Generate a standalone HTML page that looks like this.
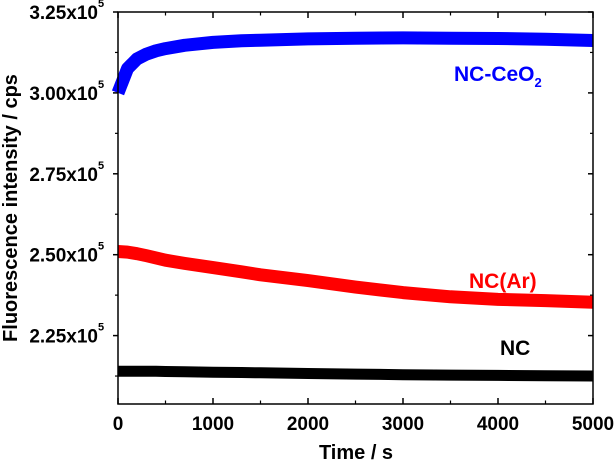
<!DOCTYPE html>
<html><head><meta charset="utf-8"><style>
html,body{margin:0;padding:0;background:#fff;}
svg text{font-family:"Liberation Sans",Arial,sans-serif;font-weight:bold;}
</style></head><body>
<svg id="chart" width="616" height="462" viewBox="0 0 616 462" xmlns="http://www.w3.org/2000/svg"></svg>
<script>
const timeVals = [0,100,200,300,400,500,700,1000,1300,1500,2000,2500,3000,3500,4000,4500,5000];
const ncCeO2 = [3.00,3.075,3.105,3.12,3.13,3.137,3.147,3.156,3.161,3.163,3.167,3.169,3.17,3.169,3.168,3.166,3.162];
const ncAr = [2.51,2.508,2.503,2.497,2.49,2.483,2.473,2.46,2.447,2.438,2.42,2.40,2.383,2.37,2.362,2.358,2.353];
const nc = [2.14,2.14,2.14,2.14,2.14,2.139,2.138,2.137,2.136,2.135,2.133,2.131,2.129,2.128,2.127,2.126,2.125];
const xTicks = [0,1000,2000,3000,4000,5000];
const yTicks = [2.25,2.50,2.75,3.00,3.25];
const yTickLabels = ["2.25x10","2.50x10","2.75x10","3.00x10","3.25x10"];

const L=118,R=593,T=12,B=404;
const xMin=0,xMax=5000,yMin=2.0386,yMax=3.25;
const sx=v=>L+(v-xMin)/(xMax-xMin)*(R-L);
const sy=v=>B-(v-yMin)/(yMax-yMin)*(B-T);
const svg=document.getElementById('chart');
const NS='http://www.w3.org/2000/svg';
function mk(tag,attrs,parent){const e=document.createElementNS(NS,tag);for(const k in attrs)e.setAttribute(k,attrs[k]);(parent||svg).appendChild(e);return e;}

function series(vals,color,name,w){
  const pts=timeVals.map((t,i)=>sx(t).toFixed(1)+','+sy(vals[i]).toFixed(1)).join(' ');
  const p=mk('polyline',{points:pts,fill:'none',stroke:color,'stroke-width':w,'stroke-linejoin':'round','stroke-linecap':'butt'});
  
  
}
series(ncCeO2,'#0000ff','series-nc-ceo2',13);
series(ncAr,'#ff0000','series-nc-ar',13);
series(nc,'#000000','series-nc',11);

const frame=mk('rect',{x:L,y:T,width:R-L,height:B-T,fill:'none',stroke:'#000','stroke-width':1.5});



xTicks.forEach(v=>{
  const x=sx(v);
  mk('line',{x1:x,y1:B,x2:x,y2:B-6,stroke:'#000','stroke-width':1.5});
  mk('line',{x1:x,y1:T,x2:x,y2:T+6,stroke:'#000','stroke-width':1.5});
  if(v<xMax){const xm=sx(v+500);
    mk('line',{x1:xm,y1:B,x2:xm,y2:B-3.5,stroke:'#000','stroke-width':1.2});
    mk('line',{x1:xm,y1:T,x2:xm,y2:T+3.5,stroke:'#000','stroke-width':1.2});}
  const t=mk('text',{x:x,y:B+26,'text-anchor':'middle','font-size':19});
  t.textContent=v;
  
  
});
yTicks.forEach((v,i)=>{
  const y=sy(v);
  mk('line',{x1:L,y1:y,x2:L-5,y2:y,stroke:'#000','stroke-width':1.5});
  mk('line',{x1:R,y1:y,x2:R-5,y2:y,stroke:'#000','stroke-width':1.5});
  const ym=sy(v-0.125);
  mk('line',{x1:L,y1:ym,x2:L-3,y2:ym,stroke:'#000','stroke-width':1.2});
  mk('line',{x1:R,y1:ym,x2:R-3,y2:ym,stroke:'#000','stroke-width':1.2});
  const t=mk('text',{x:L-20,y:y+7,'text-anchor':'end','font-size':19});
  t.textContent=yTickLabels[i];
  
  
  const s=mk('text',{x:L-20,y:y-5,'text-anchor':'start','font-size':11});
  s.textContent='5';
});
</script>
<svg style="position:absolute;left:0;top:0" width="616" height="462">
<text x="454" y="81" font-size="21" fill="#0000ff">NC-CeO<tspan font-size="13" dy="6">2</tspan></text>
<text x="469" y="288" font-size="21" fill="#ff0000">NC(Ar)</text>
<text x="500" y="355" font-size="21" fill="#000">NC</text>
<text x="356" y="459" font-size="20" text-anchor="middle">Time / s</text>
<text transform="translate(17,208) rotate(-90)" font-size="20" text-anchor="middle">Fluorescence intensity / cps</text>
</svg>
</body></html>
